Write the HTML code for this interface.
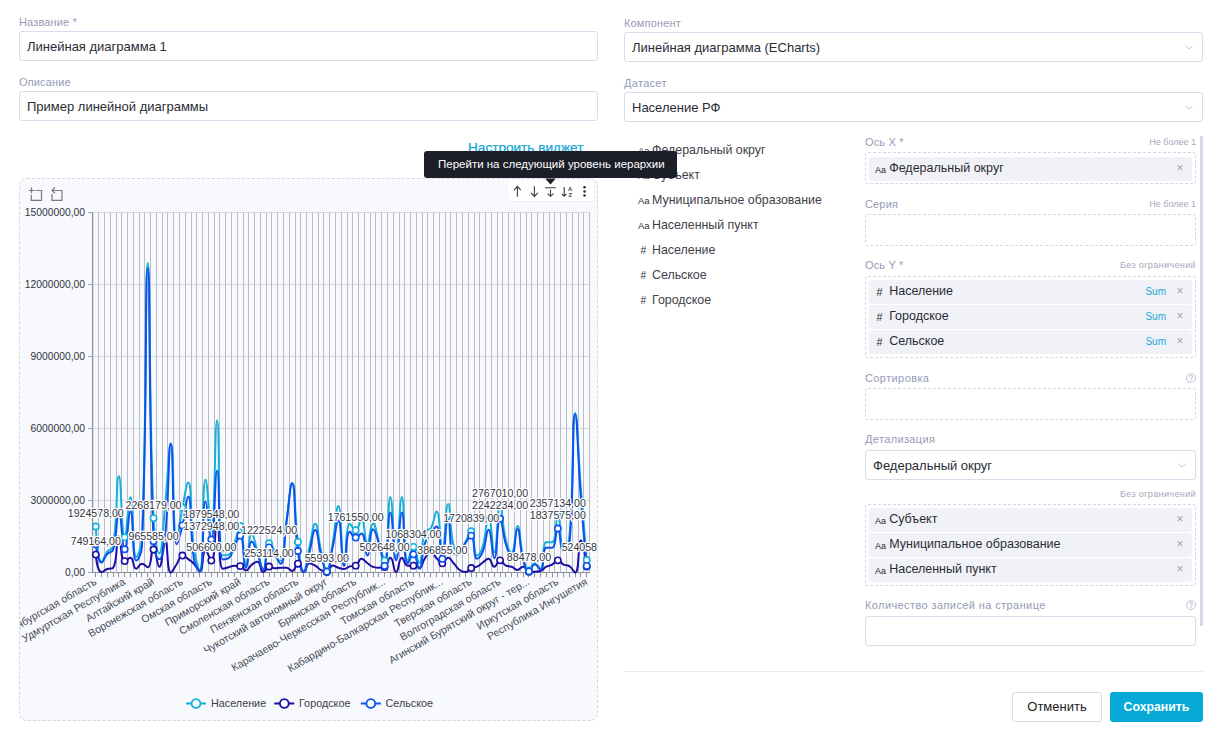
<!DOCTYPE html>
<html><head><meta charset="utf-8">
<style>
*{box-sizing:border-box;margin:0;padding:0}
html,body{width:1222px;height:746px;overflow:hidden;background:#fff;font-family:"Liberation Sans",sans-serif;color:#222}
.a{position:absolute;white-space:nowrap}
.lbl{position:absolute;font-size:11px;color:#959bb6;white-space:nowrap;line-height:13px;letter-spacing:0.15px}
.inp{position:absolute;border:1px solid #d9dcea;border-radius:3px;background:#fff}
.inp span{position:absolute;left:7px;top:7px;font-size:13px;line-height:15px;color:#2b2c33}
.chev{position:absolute;right:9.5px;top:11.5px;width:8px;height:5px}
.dash{position:absolute;border:1px dashed #d5d8e4;border-radius:3px}
.chip{position:absolute;left:3px;right:3px;height:24px;background:#f1f2f8;border-radius:3px}
.chip .ic{position:absolute;left:6px;top:7px;font-size:9px;line-height:12px;color:#2a2a2a}
.chip .tx{position:absolute;left:20.2px;top:4px;font-size:12.5px;line-height:15px;color:#2b2c33}
.chip .x{position:absolute;right:8.5px;top:4px;font-size:12px;line-height:14px;color:#9ea3b5}
.chip .sum{position:absolute;right:26px;top:6px;font-size:10px;line-height:12px;color:#1aaad8}
.small{position:absolute;font-size:9px;color:#a4a9bc;line-height:11px;white-space:nowrap}
.fl{position:absolute;left:638px;font-size:12.4px;line-height:17px;color:#3f414a;white-space:nowrap}
.fl i{font-style:normal;font-size:9.5px;display:inline-block;width:14px;color:#333}
.fl i.h{font-size:10.3px;padding-left:2.6px;color:#333}
.chip .ic.h{left:7.6px;top:5.5px;font-size:10.8px}
.q{position:absolute;width:10px;height:10px;border:1px solid #b8bccb;border-radius:50%;font-size:7px;line-height:8px;text-align:center;color:#b0b4c4}
</style></head><body>

<!-- left column -->
<div class="lbl" style="left:19px;top:16px">Название *</div>
<div class="inp" style="left:19px;top:31px;width:579px;height:30px"><span>Линейная диаграмма 1</span></div>
<div class="lbl" style="left:19px;top:76px">Описание</div>
<div class="inp" style="left:19px;top:91px;width:579px;height:30px"><span>Пример линейной диаграммы</span></div>

<div class="a" style="left:468px;top:140px;font-size:13.6px;line-height:15px;color:#17a8d6;-webkit-text-stroke:0.25px #17a8d6">Настроить виджет</div>

<!-- right column -->
<div class="lbl" style="left:624px;top:17px">Компонент</div>
<div class="inp" style="left:624px;top:32px;width:579px;height:30px"><span>Линейная диаграмма (ECharts)</span><svg class="chev" viewBox="0 0 8 5"><path d="M0.5 0.8L4 4L7.5 0.8" fill="none" stroke="#c3c6d6" stroke-width="1"/></svg></div>
<div class="lbl" style="left:624px;top:77px;letter-spacing:0.3px">Датасет</div>
<div class="inp" style="left:624px;top:92px;width:579px;height:30px"><span>Население РФ</span><svg class="chev" viewBox="0 0 8 5"><path d="M0.5 0.8L4 4L7.5 0.8" fill="none" stroke="#c3c6d6" stroke-width="1"/></svg></div>

<!-- field list -->
<div class="fl" style="top:142px"><i>Aa</i>Федеральный округ</div>
<div class="fl" style="top:167px"><i>Aa</i>Субъект</div>
<div class="fl" style="top:192px"><i>Aa</i>Муниципальное образование</div>
<div class="fl" style="top:217px"><i>Aa</i>Населенный пункт</div>
<div class="fl" style="top:242px"><i class="h">#</i>Население</div>
<div class="fl" style="top:267px"><i class="h">#</i>Сельское</div>
<div class="fl" style="top:292px"><i class="h">#</i>Городское</div>

<!-- config panel -->
<div class="lbl" style="left:865px;top:136px">Ось X *</div>
<div class="small" style="right:26px;top:137px">Не более 1</div>
<div class="dash" style="left:865px;top:152px;width:331px;height:32px">
  <div class="chip" style="top:4px"><span class="ic">Aa</span><span class="tx">Федеральный округ</span><span class="x">×</span></div>
</div>
<div class="lbl" style="left:865px;top:198px">Серия</div>
<div class="small" style="right:26px;top:199px">Не более 1</div>
<div class="dash" style="left:865px;top:214px;width:331px;height:32px"></div>

<div class="lbl" style="left:865px;top:259px">Ось Y *</div>
<div class="small" style="right:26px;top:260px;letter-spacing:0.38px">Без ограничений</div>
<div class="dash" style="left:865px;top:276px;width:331px;height:82px">
  <div class="chip" style="top:3px"><span class="ic h">#</span><span class="tx">Население</span><span class="sum">Sum</span><span class="x">×</span></div>
  <div class="chip" style="top:28px"><span class="ic h">#</span><span class="tx">Городское</span><span class="sum">Sum</span><span class="x">×</span></div>
  <div class="chip" style="top:53px"><span class="ic h">#</span><span class="tx">Сельское</span><span class="sum">Sum</span><span class="x">×</span></div>
</div>

<div class="lbl" style="left:865px;top:372px;letter-spacing:0.4px">Сортировка</div>
<svg class="a" style="left:1186px;top:373px" width="10" height="10" viewBox="0 0 10 10"><circle cx="5" cy="5" r="4.5" fill="none" stroke="#b9bdcf" stroke-width="0.9"/><path d="M3.5 3.9Q3.5 2.5 5 2.5Q6.5 2.5 6.5 3.8Q6.5 4.6 5.6 5Q5 5.3 5 6.1" fill="none" stroke="#aeb2c6" stroke-width="0.9"/><circle cx="5" cy="7.4" r="0.55" fill="#aeb2c6"/></svg>
<div class="dash" style="left:865px;top:388px;width:331px;height:32px"></div>

<div class="lbl" style="left:865px;top:433px;letter-spacing:0.35px">Детализация</div>
<div class="inp" style="left:865px;top:450px;width:331px;height:30px"><span>Федеральный округ</span><svg class="chev" viewBox="0 0 8 5"><path d="M0.5 0.8L4 4L7.5 0.8" fill="none" stroke="#c3c6d6" stroke-width="1"/></svg></div>
<div class="small" style="right:26px;top:489px;letter-spacing:0.38px">Без ограничений</div>
<div class="dash" style="left:865px;top:504px;width:331px;height:82px">
  <div class="chip" style="top:3px"><span class="ic">Aa</span><span class="tx">Субъект</span><span class="x">×</span></div>
  <div class="chip" style="top:28px"><span class="ic">Aa</span><span class="tx">Муниципальное образование</span><span class="x">×</span></div>
  <div class="chip" style="top:53px"><span class="ic">Aa</span><span class="tx">Населенный пункт</span><span class="x">×</span></div>
</div>

<div class="lbl" style="left:865px;top:599px;letter-spacing:0.4px">Количество записей на странице</div>
<svg class="a" style="left:1186px;top:600px" width="10" height="10" viewBox="0 0 10 10"><circle cx="5" cy="5" r="4.5" fill="none" stroke="#b9bdcf" stroke-width="0.9"/><path d="M3.5 3.9Q3.5 2.5 5 2.5Q6.5 2.5 6.5 3.8Q6.5 4.6 5.6 5Q5 5.3 5 6.1" fill="none" stroke="#aeb2c6" stroke-width="0.9"/><circle cx="5" cy="7.4" r="0.55" fill="#aeb2c6"/></svg>
<div class="inp" style="left:865px;top:616px;width:331px;height:30px"></div>

<div class="a" style="left:1200px;top:136px;width:3px;height:490px;background:#d6d9e6"></div>

<div class="a" style="left:624px;top:671px;width:579px;height:1px;background:#e9ebf2"></div>
<div class="a" style="left:1012px;top:692px;width:90px;height:30px;border:1px solid #d9dcea;border-radius:3px;font-size:13px;line-height:28px;text-align:center;color:#222">Отменить</div>
<div class="a" style="left:1110px;top:692px;width:93px;height:30px;background:#07aad6;border-radius:3px;font-size:12.3px;font-weight:bold;line-height:30px;text-align:center;color:#fff">Сохранить</div>

<!-- chart container -->
<div class="a" style="left:19px;top:178px;width:579px;height:543px;background:#f8f9fd;border:1px dashed #d8d9de;border-radius:8px"></div>

<svg class="a" style="left:0;top:0" width="610" height="730" viewBox="0 0 610 730">
<defs><clipPath id="cc"><rect x="20" y="179" width="577" height="541" rx="7"/></clipPath></defs>
<g clip-path="url(#cc)">
<line x1="93" y1="500.5" x2="589.6" y2="500.5" stroke="#d6d7de" stroke-width="1"/>
<line x1="93" y1="428.5" x2="589.6" y2="428.5" stroke="#d6d7de" stroke-width="1"/>
<line x1="93" y1="356.5" x2="589.6" y2="356.5" stroke="#d6d7de" stroke-width="1"/>
<line x1="93" y1="284.5" x2="589.6" y2="284.5" stroke="#d6d7de" stroke-width="1"/>
<line x1="93" y1="212.5" x2="589.6" y2="212.5" stroke="#d6d7de" stroke-width="1"/>
<path d="M98.5 212.5V572.5M104.5 212.5V572.5M110.5 212.5V572.5M116.5 212.5V572.5M121.5 212.5V572.5M127.5 212.5V572.5M133.5 212.5V572.5M139.5 212.5V572.5M144.5 212.5V572.5M150.5 212.5V572.5M156.5 212.5V572.5M162.5 212.5V572.5M167.5 212.5V572.5M173.5 212.5V572.5M179.5 212.5V572.5M185.5 212.5V572.5M191.5 212.5V572.5M196.5 212.5V572.5M202.5 212.5V572.5M208.5 212.5V572.5M214.5 212.5V572.5M219.5 212.5V572.5M225.5 212.5V572.5M231.5 212.5V572.5M237.5 212.5V572.5M243.5 212.5V572.5M248.5 212.5V572.5M254.5 212.5V572.5M260.5 212.5V572.5M266.5 212.5V572.5M271.5 212.5V572.5M277.5 212.5V572.5M283.5 212.5V572.5M289.5 212.5V572.5M295.5 212.5V572.5M300.5 212.5V572.5M306.5 212.5V572.5M312.5 212.5V572.5M318.5 212.5V572.5M323.5 212.5V572.5M329.5 212.5V572.5M335.5 212.5V572.5M341.5 212.5V572.5M347.5 212.5V572.5M352.5 212.5V572.5M358.5 212.5V572.5M364.5 212.5V572.5M370.5 212.5V572.5M375.5 212.5V572.5M381.5 212.5V572.5M387.5 212.5V572.5M393.5 212.5V572.5M399.5 212.5V572.5M404.5 212.5V572.5M410.5 212.5V572.5M416.5 212.5V572.5M422.5 212.5V572.5M427.5 212.5V572.5M433.5 212.5V572.5M439.5 212.5V572.5M445.5 212.5V572.5M450.5 212.5V572.5M456.5 212.5V572.5M462.5 212.5V572.5M468.5 212.5V572.5M474.5 212.5V572.5M479.5 212.5V572.5M485.5 212.5V572.5M491.5 212.5V572.5M497.5 212.5V572.5M502.5 212.5V572.5M508.5 212.5V572.5M514.5 212.5V572.5M520.5 212.5V572.5M526.5 212.5V572.5M531.5 212.5V572.5M537.5 212.5V572.5M543.5 212.5V572.5M549.5 212.5V572.5M554.5 212.5V572.5M560.5 212.5V572.5M566.5 212.5V572.5M572.5 212.5V572.5M578.5 212.5V572.5M583.5 212.5V572.5M589.5 212.5V572.5" stroke="#babbc4" stroke-width="1" fill="none"/>
<path d="M92.6 212.5V572.5" stroke="#8e909a" stroke-width="1.3"/>
<path d="M88 572.5H93M88 500.5H93M88 428.5H93M88 356.5H93M88 284.5H93M88 212.5H93" stroke="#a3a5ae" stroke-width="1"/>
<path d="M92 572.5H590" stroke="#8f919b" stroke-width="1"/>
<path d="M95.5 573V577.2M101.5 573V577.2M107.5 573V577.2M113.5 573V577.2M118.5 573V577.2M124.5 573V577.2M130.5 573V577.2M136.5 573V577.2M141.5 573V577.2M147.5 573V577.2M153.5 573V577.2M159.5 573V577.2M165.5 573V577.2M170.5 573V577.2M176.5 573V577.2M182.5 573V577.2M188.5 573V577.2M193.5 573V577.2M199.5 573V577.2M205.5 573V577.2M211.5 573V577.2M217.5 573V577.2M222.5 573V577.2M228.5 573V577.2M234.5 573V577.2M240.5 573V577.2M245.5 573V577.2M251.5 573V577.2M257.5 573V577.2M263.5 573V577.2M269.5 573V577.2M274.5 573V577.2M280.5 573V577.2M286.5 573V577.2M292.5 573V577.2M297.5 573V577.2M303.5 573V577.2M309.5 573V577.2M315.5 573V577.2M321.5 573V577.2M326.5 573V577.2M332.5 573V577.2M338.5 573V577.2M344.5 573V577.2M349.5 573V577.2M355.5 573V577.2M361.5 573V577.2M367.5 573V577.2M373.5 573V577.2M378.5 573V577.2M384.5 573V577.2M390.5 573V577.2M396.5 573V577.2M401.5 573V577.2M407.5 573V577.2M413.5 573V577.2M419.5 573V577.2M424.5 573V577.2M430.5 573V577.2M436.5 573V577.2M442.5 573V577.2M448.5 573V577.2M453.5 573V577.2M459.5 573V577.2M465.5 573V577.2M471.5 573V577.2M476.5 573V577.2M482.5 573V577.2M488.5 573V577.2M494.5 573V577.2M500.5 573V577.2M505.5 573V577.2M511.5 573V577.2M517.5 573V577.2M523.5 573V577.2M528.5 573V577.2M534.5 573V577.2M540.5 573V577.2M546.5 573V577.2M552.5 573V577.2M557.5 573V577.2M563.5 573V577.2M569.5 573V577.2M575.5 573V577.2M580.5 573V577.2M586.5 573V577.2" stroke="#8f919b" stroke-width="1"/>
<text x="85" y="575.8" text-anchor="end" font-size="10.3" fill="#30333d">0,00</text>
<text x="85" y="503.8" text-anchor="end" font-size="10.3" fill="#30333d">3000000,00</text>
<text x="85" y="431.8" text-anchor="end" font-size="10.3" fill="#30333d">6000000,00</text>
<text x="85" y="359.8" text-anchor="end" font-size="10.3" fill="#30333d">9000000,00</text>
<text x="85" y="287.8" text-anchor="end" font-size="10.3" fill="#30333d">12000000,00</text>
<text x="85" y="215.8" text-anchor="end" font-size="10.3" fill="#30333d">15000000,00</text>
<text transform="translate(95.3 580.5) rotate(-30)" y="3.8" text-anchor="end" font-size="10.6" fill="#474a56">Оренбургская область</text>
<text transform="translate(124.2 580.5) rotate(-30)" y="3.8" text-anchor="end" font-size="10.6" fill="#474a56">Удмуртская Республика</text>
<text transform="translate(153.0 580.5) rotate(-30)" y="3.8" text-anchor="end" font-size="10.6" fill="#474a56">Алтайский край</text>
<text transform="translate(181.9 580.5) rotate(-30)" y="3.8" text-anchor="end" font-size="10.6" fill="#474a56">Воронежская область</text>
<text transform="translate(210.8 580.5) rotate(-30)" y="3.8" text-anchor="end" font-size="10.6" fill="#474a56">Омская область</text>
<text transform="translate(239.7 580.5) rotate(-30)" y="3.8" text-anchor="end" font-size="10.6" fill="#474a56">Приморский край</text>
<text transform="translate(268.6 580.5) rotate(-30)" y="3.8" text-anchor="end" font-size="10.6" fill="#474a56">Смоленская область</text>
<text transform="translate(297.4 580.5) rotate(-30)" y="3.8" text-anchor="end" font-size="10.6" fill="#474a56">Пензенская область</text>
<text transform="translate(326.3 580.5) rotate(-30)" y="3.8" text-anchor="end" font-size="10.6" fill="#474a56">Чукотский автономный округ</text>
<text transform="translate(355.2 580.5) rotate(-30)" y="3.8" text-anchor="end" font-size="10.6" fill="#474a56">Брянская область</text>
<text transform="translate(384.1 580.5) rotate(-30)" y="3.8" text-anchor="end" font-size="10.6" fill="#474a56">Карачаево-Черкесская Республик...</text>
<text transform="translate(412.9 580.5) rotate(-30)" y="3.8" text-anchor="end" font-size="10.6" fill="#474a56">Томская область</text>
<text transform="translate(441.8 580.5) rotate(-30)" y="3.8" text-anchor="end" font-size="10.6" fill="#474a56">Кабардино-Балкарская Республик...</text>
<text transform="translate(470.7 580.5) rotate(-30)" y="3.8" text-anchor="end" font-size="10.6" fill="#474a56">Тверская область</text>
<text transform="translate(499.6 580.5) rotate(-30)" y="3.8" text-anchor="end" font-size="10.6" fill="#474a56">Волгоградская область</text>
<text transform="translate(528.5 580.5) rotate(-30)" y="3.8" text-anchor="end" font-size="10.6" fill="#474a56">Агинский Бурятский округ - тер...</text>
<text transform="translate(557.3 580.5) rotate(-30)" y="3.8" text-anchor="end" font-size="10.6" fill="#474a56">Иркутская область</text>
<text transform="translate(586.2 580.5) rotate(-30)" y="3.8" text-anchor="end" font-size="10.6" fill="#474a56">Республика Ингушетия</text>
<path d="M95.79 526.52C95.79 526.52 97.20 561.80 101.56 561.80C102.98 561.80 103.89 556.31 107.34 551.72C109.66 548.63 112.54 550.21 113.11 546.44C118.31 512.53 115.80 476.36 118.89 476.36C121.58 476.36 121.19 537.32 124.67 537.32C126.96 537.32 128.11 497.24 130.44 497.24C133.89 497.24 131.95 557.00 136.22 557.00C137.72 557.00 141.58 547.17 141.99 536.60C147.35 400.17 144.78 263.00 147.77 263.00C150.55 263.00 148.48 390.76 153.54 518.12C154.25 535.96 156.86 553.40 159.32 553.40C162.64 553.40 162.57 529.44 165.09 505.40C168.34 474.48 168.61 443.48 170.87 443.48C174.38 443.48 172.33 539.96 176.65 539.96C178.11 539.96 179.20 523.81 182.42 507.80C184.97 495.13 186.58 482.60 188.20 482.60C192.35 482.60 189.65 515.85 193.97 548.60C195.43 559.65 198.61 570.20 199.75 570.20C204.38 570.20 201.75 479.72 205.52 479.72C207.53 479.72 209.51 527.48 211.30 527.48C215.29 527.48 214.52 420.20 217.07 420.20C220.29 420.20 217.31 555.32 222.85 555.32C223.09 555.32 226.83 555.32 228.63 554.60C232.60 553.01 231.99 549.04 234.40 543.08C237.77 534.76 238.38 526.04 240.18 526.04C244.15 526.04 242.74 565.40 245.95 565.40C248.52 565.40 248.03 534.20 251.73 534.20C253.80 534.20 254.72 542.56 257.50 551.00C260.50 560.08 260.86 569.24 263.28 569.24C266.64 569.24 264.79 543.26 269.06 543.26C270.57 543.26 272.21 546.83 274.83 550.76C277.99 555.50 279.29 560.60 280.61 560.60C285.07 560.60 283.52 541.40 286.38 522.20C289.30 502.64 289.84 483.08 292.16 483.08C295.62 483.08 294.11 512.62 297.93 541.88C299.88 556.78 300.56 571.40 303.71 571.40C306.34 571.40 306.53 559.14 309.48 546.92C312.30 535.26 312.59 523.64 315.26 523.64C318.37 523.64 317.74 537.42 321.04 551.00C323.52 561.23 324.33 571.26 326.81 571.26C330.11 571.26 330.14 557.61 332.59 543.80C335.91 525.04 336.07 506.12 338.36 506.12C341.85 506.12 340.74 563.96 344.14 563.96C346.52 563.96 345.17 523.64 349.91 523.64C350.94 523.64 353.24 530.32 355.69 530.32C359.02 530.32 359.54 519.80 361.46 519.80C365.31 519.80 364.13 543.08 367.24 543.08C369.90 543.08 370.01 523.40 373.02 523.40C375.79 523.40 375.98 532.37 378.79 541.40C381.76 550.94 383.19 560.54 384.57 560.54C388.96 560.54 387.43 497.00 390.34 497.00C393.20 497.00 393.23 559.40 396.12 559.40C399.01 559.40 399.05 497.00 401.89 497.00C404.82 497.00 403.01 561.32 407.67 561.32C408.79 561.32 410.70 546.96 413.44 546.96C416.47 546.96 417.22 563.00 419.22 563.00C423.00 563.00 420.20 545.77 425.00 531.32C425.97 528.37 429.21 530.89 430.77 528.20C434.99 520.93 434.73 511.40 436.55 511.40C440.50 511.40 439.69 549.56 442.32 549.56C445.46 549.56 445.14 503.96 448.10 503.96C450.92 503.96 448.89 526.99 453.87 547.40C454.66 550.63 457.39 551.24 459.65 551.24C463.17 551.24 462.72 546.79 465.42 542.12C468.50 536.82 469.30 531.30 471.20 531.30C475.07 531.30 472.95 555.56 476.98 555.56C478.72 555.56 481.27 551.55 482.75 546.44C487.04 531.63 485.88 515.72 488.53 515.72C491.66 515.72 491.74 552.20 494.30 552.20C497.52 552.20 496.76 506.19 500.08 506.19C502.53 506.19 501.75 523.45 505.85 539.96C507.53 546.69 509.67 552.68 511.63 552.68C515.45 552.68 514.73 526.04 517.41 526.04C520.50 526.04 519.24 541.84 523.18 557.00C525.02 564.06 525.42 570.48 528.96 570.48C531.19 570.48 531.66 563.24 534.73 563.24C537.44 563.24 539.18 569.00 540.51 569.00C544.95 569.00 541.52 542.36 546.28 542.36C547.29 542.36 551.04 542.36 552.06 542.36C556.82 542.36 555.31 516.03 557.83 516.03C561.09 516.03 559.56 550.28 563.61 550.28C565.34 550.28 568.77 543.95 569.39 536.60C574.54 475.31 571.60 413.00 575.16 413.00C577.38 413.00 577.92 451.41 580.94 489.80C583.70 524.92 586.71 560.02 586.71 560.02" stroke="#14b1d9" stroke-width="2" fill="none" stroke-linejoin="round"/>
<path d="M95.79 554.60C95.79 554.60 97.30 572.12 101.56 572.12C103.08 572.12 104.30 570.14 107.34 569.00C110.07 567.98 112.21 569.00 113.11 567.80C117.98 561.35 115.67 536.60 118.89 536.60C121.44 536.60 120.10 561.08 124.67 561.08C125.88 561.08 128.43 557.72 130.44 557.72C134.20 557.72 132.64 568.76 136.22 568.76C138.42 568.76 138.93 563.72 141.99 563.72C144.71 563.72 146.23 567.32 147.77 567.32C152.00 567.32 150.62 549.56 153.54 549.56C156.40 549.56 157.01 566.84 159.32 566.84C162.78 566.84 162.48 540.20 165.09 540.20C168.25 540.20 166.46 572.60 170.87 572.60C172.24 572.60 173.79 568.42 176.65 564.20C179.56 559.90 178.93 555.56 182.42 555.56C184.71 555.56 185.42 557.20 188.20 559.16C191.20 561.28 191.47 561.07 193.97 563.72C197.24 567.19 197.96 571.40 199.75 571.40C203.74 571.40 201.75 550.76 205.52 550.76C207.53 550.76 209.99 560.60 211.30 560.60C215.76 560.60 214.46 522.20 217.07 522.20C220.24 522.20 217.73 568.76 222.85 568.76C223.50 568.76 225.75 568.10 228.63 567.32C231.53 566.54 231.46 565.64 234.40 565.64C237.24 565.64 237.60 565.64 240.18 566.12C243.38 566.72 243.24 570.44 245.95 570.44C249.02 570.44 248.50 567.09 251.73 564.68C254.28 562.77 255.46 561.80 257.50 561.80C261.24 561.80 259.84 572.12 263.28 572.12C265.62 572.12 265.76 566.53 269.06 566.53C271.53 566.53 271.88 568.28 274.83 568.28C277.66 568.28 277.71 567.80 280.61 567.80C283.49 567.80 283.68 567.80 286.38 567.80C289.45 567.80 289.76 570.92 292.16 570.92C295.53 570.92 295.19 563.72 297.93 563.72C300.96 563.72 300.88 572.12 303.71 572.12C306.65 572.12 305.85 563.24 309.48 563.24C311.63 563.24 312.61 564.04 315.26 565.64C318.38 567.52 317.87 568.43 321.04 570.20C323.65 571.67 324.46 572.12 326.81 572.12C330.23 572.12 329.20 565.40 332.59 565.40C334.98 565.40 335.39 566.87 338.36 567.80C341.17 568.67 341.36 569.00 344.14 569.00C347.13 569.00 346.90 567.15 349.91 566.36C352.68 565.64 353.43 566.36 355.69 565.64C359.20 564.52 358.25 558.68 361.46 558.68C364.03 558.68 364.30 560.92 367.24 563.00C370.07 565.00 369.88 565.70 373.02 566.84C375.66 567.80 375.89 567.80 378.79 567.80C381.67 567.80 382.57 567.80 384.57 567.08C388.34 565.72 387.95 557.72 390.34 557.72C393.72 557.72 393.23 572.12 396.12 572.12C399.01 572.12 398.35 557.72 401.89 557.72C404.13 557.72 404.03 565.64 407.67 565.64C409.81 565.64 410.65 565.64 413.44 565.64C416.43 565.64 417.17 567.80 419.22 567.80C422.95 567.80 421.68 562.67 425.00 558.20C427.46 554.87 427.88 552.20 430.77 552.20C433.66 552.20 433.55 555.32 436.55 558.20C439.32 560.87 439.49 563.31 442.32 563.31C445.27 563.31 445.23 557.72 448.10 557.72C451.01 557.72 451.08 560.52 453.87 563.48C456.85 566.64 456.27 567.43 459.65 569.96C462.05 571.75 462.73 572.12 465.42 572.12C468.51 572.12 468.06 569.51 471.20 568.04C473.83 566.81 474.36 567.97 476.98 566.72C480.13 565.21 479.82 564.56 482.75 562.52C485.60 560.54 486.15 558.68 488.53 558.68C491.92 558.68 491.21 566.72 494.30 566.72C496.99 566.72 497.06 560.36 500.08 560.36C502.83 560.36 502.56 564.20 505.85 565.64C508.33 566.72 508.91 565.70 511.63 566.72C514.69 567.86 514.52 569.96 517.41 569.96C520.29 569.96 520.49 566.72 523.18 566.72C526.26 566.72 525.68 571.64 528.96 571.64C531.45 571.64 531.86 571.64 534.73 571.64C537.63 571.64 537.93 571.64 540.51 570.92C543.70 570.03 543.15 568.29 546.28 566.60C548.93 565.17 549.42 566.11 552.06 564.68C555.19 562.99 554.95 560.36 557.83 560.36C560.72 560.36 560.45 563.10 563.61 564.68C566.22 565.98 567.04 564.68 569.39 566.12C572.81 568.22 573.95 572.60 575.16 572.60C579.72 572.60 577.76 540.44 580.94 540.44C583.54 540.44 586.71 566.60 586.71 566.60" stroke="#1d0ca3" stroke-width="2" fill="none" stroke-linejoin="round"/>
<path d="M95.79 544.28C95.79 544.28 97.82 562.52 101.56 562.52C103.60 562.52 103.90 557.66 107.34 553.88C109.68 551.30 112.20 553.06 113.11 549.80C117.98 532.42 115.98 512.60 118.89 512.60C121.76 512.60 121.82 549.32 124.67 549.32C127.60 549.32 127.92 511.40 130.44 511.40C133.70 511.40 131.82 560.60 136.22 560.60C137.59 560.60 141.69 553.93 141.99 546.20C147.46 407.65 144.85 268.04 147.77 268.04C150.63 268.04 148.14 405.02 153.54 541.16C153.92 550.58 156.73 559.16 159.32 559.16C162.51 559.16 163.94 548.15 165.09 536.60C169.72 490.31 168.10 443.48 170.87 443.48C173.87 443.48 171.81 544.28 176.65 544.28C177.59 544.28 180.11 535.01 182.42 525.44C185.88 511.13 186.36 496.52 188.20 496.52C192.13 496.52 189.20 528.48 193.97 559.40C194.98 565.92 198.83 571.40 199.75 571.40C204.60 571.40 201.79 501.56 205.52 501.56C207.57 501.56 209.23 539.48 211.30 539.48C215.01 539.48 214.55 470.84 217.07 470.84C220.33 470.84 217.43 559.40 222.85 559.40C223.21 559.40 226.83 559.40 228.63 558.20C232.61 555.53 231.42 552.27 234.40 546.44C237.19 540.99 238.60 535.64 240.18 535.64C244.38 535.64 242.79 567.80 245.95 567.80C248.57 567.80 247.90 541.40 251.73 541.40C253.68 541.40 254.93 547.51 257.50 553.88C260.70 561.79 260.84 569.96 263.28 569.96C266.61 569.96 264.97 547.40 269.06 547.40C270.74 547.40 272.06 551.16 274.83 555.08C277.83 559.32 279.44 563.72 280.61 563.72C285.22 563.72 283.44 543.31 286.38 522.92C289.22 503.23 290.02 483.56 292.16 483.56C295.80 483.56 293.57 517.54 297.93 551.00C299.34 561.82 300.74 572.12 303.71 572.12C306.52 572.12 306.73 562.20 309.48 552.20C312.51 541.20 312.51 530.12 315.26 530.12C318.29 530.12 317.67 542.50 321.04 554.60C323.44 563.26 324.38 571.64 326.81 571.64C330.15 571.64 329.87 559.68 332.59 547.64C335.64 534.12 336.18 520.52 338.36 520.52C341.96 520.52 340.85 565.88 344.14 565.88C346.62 565.88 345.24 531.80 349.91 531.80C351.02 531.80 352.60 537.56 355.69 537.56C358.37 537.56 360.10 533.48 361.46 533.48C365.87 533.48 364.60 555.56 367.24 555.56C370.37 555.56 369.31 529.16 373.02 529.16C375.08 529.16 376.54 535.91 378.79 543.08C382.31 554.27 382.81 565.88 384.57 565.88C388.58 565.88 387.30 512.60 390.34 512.60C393.07 512.60 393.23 560.36 396.12 560.36C399.01 560.36 399.10 512.60 401.89 512.60C404.87 512.60 402.90 563.48 407.67 563.48C408.67 563.48 411.08 554.36 413.44 554.36C416.85 554.36 417.08 568.76 419.22 568.76C422.85 568.76 420.94 555.45 425.00 543.08C426.72 537.81 427.58 538.06 430.77 533.48C433.35 529.78 435.30 526.52 436.55 526.52C441.08 526.52 439.73 558.92 442.32 558.92C445.51 558.92 445.06 518.84 448.10 518.84C450.83 518.84 448.90 554.84 453.87 554.84C454.67 554.84 457.78 554.84 459.65 553.88C463.56 551.87 462.16 548.24 465.42 543.08C467.94 539.12 469.56 535.64 471.20 535.64C475.34 535.64 472.79 558.68 476.98 558.68C478.57 558.68 481.11 555.84 482.75 551.72C486.89 541.32 485.99 529.64 488.53 529.64C491.77 529.64 491.86 558.20 494.30 558.20C497.64 558.20 496.59 518.79 500.08 518.79C502.37 518.79 502.09 531.83 505.85 544.28C507.87 550.93 509.73 557.00 511.63 557.00C515.50 557.00 514.68 529.16 517.41 529.16C520.45 529.16 519.03 545.19 523.18 560.36C524.81 566.31 525.64 571.40 528.96 571.40C531.41 571.40 531.64 564.20 534.73 564.20C537.41 564.20 539.01 569.72 540.51 569.72C544.79 569.72 541.67 547.64 546.28 547.64C547.45 547.64 550.76 547.64 552.06 547.64C556.54 547.64 555.16 528.50 557.83 528.50C560.94 528.50 559.36 551.00 563.61 551.00C565.13 551.00 569.04 549.09 569.39 545.00C574.82 480.69 571.67 414.20 575.16 414.20C577.44 414.20 577.69 456.83 580.94 499.40C583.47 532.67 586.71 565.88 586.71 565.88" stroke="#0d52ee" stroke-width="2" fill="none" stroke-linejoin="round"/>
<circle cx="95.79" cy="526.52" r="3.15" fill="#fff" stroke="#14b1d9" stroke-width="1.6"/>
<circle cx="124.67" cy="537.32" r="3.15" fill="#fff" stroke="#14b1d9" stroke-width="1.6"/>
<circle cx="153.54" cy="518.12" r="3.15" fill="#fff" stroke="#14b1d9" stroke-width="1.6"/>
<circle cx="182.42" cy="507.80" r="3.15" fill="#fff" stroke="#14b1d9" stroke-width="1.6"/>
<circle cx="211.30" cy="527.48" r="3.15" fill="#fff" stroke="#14b1d9" stroke-width="1.6"/>
<circle cx="240.18" cy="526.04" r="3.15" fill="#fff" stroke="#14b1d9" stroke-width="1.6"/>
<circle cx="269.06" cy="543.26" r="3.15" fill="#fff" stroke="#14b1d9" stroke-width="1.6"/>
<circle cx="297.93" cy="541.88" r="3.15" fill="#fff" stroke="#14b1d9" stroke-width="1.6"/>
<circle cx="326.81" cy="571.26" r="3.15" fill="#fff" stroke="#14b1d9" stroke-width="1.6"/>
<circle cx="355.69" cy="530.32" r="3.15" fill="#fff" stroke="#14b1d9" stroke-width="1.6"/>
<circle cx="384.57" cy="560.54" r="3.15" fill="#fff" stroke="#14b1d9" stroke-width="1.6"/>
<circle cx="413.44" cy="546.96" r="3.15" fill="#fff" stroke="#14b1d9" stroke-width="1.6"/>
<circle cx="442.32" cy="549.56" r="3.15" fill="#fff" stroke="#14b1d9" stroke-width="1.6"/>
<circle cx="471.20" cy="531.30" r="3.15" fill="#fff" stroke="#14b1d9" stroke-width="1.6"/>
<circle cx="500.08" cy="506.19" r="3.15" fill="#fff" stroke="#14b1d9" stroke-width="1.6"/>
<circle cx="528.96" cy="570.48" r="3.15" fill="#fff" stroke="#14b1d9" stroke-width="1.6"/>
<circle cx="557.83" cy="516.03" r="3.15" fill="#fff" stroke="#14b1d9" stroke-width="1.6"/>
<circle cx="586.71" cy="560.02" r="3.15" fill="#fff" stroke="#14b1d9" stroke-width="1.6"/>
<circle cx="95.79" cy="554.60" r="3.15" fill="#fff" stroke="#1d0ca3" stroke-width="1.6"/>
<circle cx="124.67" cy="561.08" r="3.15" fill="#fff" stroke="#1d0ca3" stroke-width="1.6"/>
<circle cx="153.54" cy="549.56" r="3.15" fill="#fff" stroke="#1d0ca3" stroke-width="1.6"/>
<circle cx="182.42" cy="555.56" r="3.15" fill="#fff" stroke="#1d0ca3" stroke-width="1.6"/>
<circle cx="211.30" cy="560.60" r="3.15" fill="#fff" stroke="#1d0ca3" stroke-width="1.6"/>
<circle cx="240.18" cy="566.12" r="3.15" fill="#fff" stroke="#1d0ca3" stroke-width="1.6"/>
<circle cx="269.06" cy="566.53" r="3.15" fill="#fff" stroke="#1d0ca3" stroke-width="1.6"/>
<circle cx="297.93" cy="563.72" r="3.15" fill="#fff" stroke="#1d0ca3" stroke-width="1.6"/>
<circle cx="326.81" cy="572.12" r="3.15" fill="#fff" stroke="#1d0ca3" stroke-width="1.6"/>
<circle cx="355.69" cy="565.64" r="3.15" fill="#fff" stroke="#1d0ca3" stroke-width="1.6"/>
<circle cx="384.57" cy="567.08" r="3.15" fill="#fff" stroke="#1d0ca3" stroke-width="1.6"/>
<circle cx="413.44" cy="565.64" r="3.15" fill="#fff" stroke="#1d0ca3" stroke-width="1.6"/>
<circle cx="442.32" cy="563.31" r="3.15" fill="#fff" stroke="#1d0ca3" stroke-width="1.6"/>
<circle cx="471.20" cy="568.04" r="3.15" fill="#fff" stroke="#1d0ca3" stroke-width="1.6"/>
<circle cx="500.08" cy="560.36" r="3.15" fill="#fff" stroke="#1d0ca3" stroke-width="1.6"/>
<circle cx="528.96" cy="571.64" r="3.15" fill="#fff" stroke="#1d0ca3" stroke-width="1.6"/>
<circle cx="557.83" cy="560.36" r="3.15" fill="#fff" stroke="#1d0ca3" stroke-width="1.6"/>
<circle cx="586.71" cy="566.60" r="3.15" fill="#fff" stroke="#1d0ca3" stroke-width="1.6"/>
<circle cx="95.79" cy="544.28" r="3.15" fill="#fff" stroke="#0d52ee" stroke-width="1.6"/>
<circle cx="124.67" cy="549.32" r="3.15" fill="#fff" stroke="#0d52ee" stroke-width="1.6"/>
<circle cx="153.54" cy="541.16" r="3.15" fill="#fff" stroke="#0d52ee" stroke-width="1.6"/>
<circle cx="182.42" cy="525.44" r="3.15" fill="#fff" stroke="#0d52ee" stroke-width="1.6"/>
<circle cx="211.30" cy="539.48" r="3.15" fill="#fff" stroke="#0d52ee" stroke-width="1.6"/>
<circle cx="240.18" cy="535.64" r="3.15" fill="#fff" stroke="#0d52ee" stroke-width="1.6"/>
<circle cx="269.06" cy="547.40" r="3.15" fill="#fff" stroke="#0d52ee" stroke-width="1.6"/>
<circle cx="297.93" cy="551.00" r="3.15" fill="#fff" stroke="#0d52ee" stroke-width="1.6"/>
<circle cx="326.81" cy="571.64" r="3.15" fill="#fff" stroke="#0d52ee" stroke-width="1.6"/>
<circle cx="355.69" cy="537.56" r="3.15" fill="#fff" stroke="#0d52ee" stroke-width="1.6"/>
<circle cx="384.57" cy="565.88" r="3.15" fill="#fff" stroke="#0d52ee" stroke-width="1.6"/>
<circle cx="413.44" cy="554.36" r="3.15" fill="#fff" stroke="#0d52ee" stroke-width="1.6"/>
<circle cx="442.32" cy="558.92" r="3.15" fill="#fff" stroke="#0d52ee" stroke-width="1.6"/>
<circle cx="471.20" cy="535.64" r="3.15" fill="#fff" stroke="#0d52ee" stroke-width="1.6"/>
<circle cx="500.08" cy="518.79" r="3.15" fill="#fff" stroke="#0d52ee" stroke-width="1.6"/>
<circle cx="528.96" cy="571.40" r="3.15" fill="#fff" stroke="#0d52ee" stroke-width="1.6"/>
<circle cx="557.83" cy="528.50" r="3.15" fill="#fff" stroke="#0d52ee" stroke-width="1.6"/>
<circle cx="586.71" cy="565.88" r="3.15" fill="#fff" stroke="#0d52ee" stroke-width="1.6"/>
<text x="95.79" y="517.12" text-anchor="middle" font-size="10.6" fill="#33353f" stroke="#fff" stroke-width="2.5" paint-order="stroke" stroke-linejoin="round">1924578,00</text>
<text x="95.79" y="545.20" text-anchor="middle" font-size="10.6" fill="#33353f" stroke="#fff" stroke-width="2.5" paint-order="stroke" stroke-linejoin="round">749164,00</text>
<text x="153.54" y="540.16" text-anchor="middle" font-size="10.6" fill="#33353f" stroke="#fff" stroke-width="2.5" paint-order="stroke" stroke-linejoin="round">965585,00</text>
<text x="153.54" y="508.72" text-anchor="middle" font-size="10.6" fill="#33353f" stroke="#fff" stroke-width="2.5" paint-order="stroke" stroke-linejoin="round">2268179,00</text>
<text x="211.30" y="518.08" text-anchor="middle" font-size="10.6" fill="#33353f" stroke="#fff" stroke-width="2.5" paint-order="stroke" stroke-linejoin="round">1879548,00</text>
<text x="211.30" y="530.08" text-anchor="middle" font-size="10.6" fill="#33353f" stroke="#fff" stroke-width="2.5" paint-order="stroke" stroke-linejoin="round">1372948,00</text>
<text x="211.30" y="551.20" text-anchor="middle" font-size="10.6" fill="#33353f" stroke="#fff" stroke-width="2.5" paint-order="stroke" stroke-linejoin="round">506600,00</text>
<text x="269.06" y="533.86" text-anchor="middle" font-size="10.6" fill="#33353f" stroke="#fff" stroke-width="2.5" paint-order="stroke" stroke-linejoin="round">1222524,00</text>
<text x="269.06" y="557.13" text-anchor="middle" font-size="10.6" fill="#33353f" stroke="#fff" stroke-width="2.5" paint-order="stroke" stroke-linejoin="round">253114,00</text>
<text x="326.81" y="561.86" text-anchor="middle" font-size="10.6" fill="#33353f" stroke="#fff" stroke-width="2.5" paint-order="stroke" stroke-linejoin="round">55993,00</text>
<text x="355.69" y="520.92" text-anchor="middle" font-size="10.6" fill="#33353f" stroke="#fff" stroke-width="2.5" paint-order="stroke" stroke-linejoin="round">1761550,00</text>
<text x="384.57" y="551.14" text-anchor="middle" font-size="10.6" fill="#33353f" stroke="#fff" stroke-width="2.5" paint-order="stroke" stroke-linejoin="round">502648,00</text>
<text x="413.44" y="537.56" text-anchor="middle" font-size="10.6" fill="#33353f" stroke="#fff" stroke-width="2.5" paint-order="stroke" stroke-linejoin="round">1068304,00</text>
<text x="442.32" y="553.91" text-anchor="middle" font-size="10.6" fill="#33353f" stroke="#fff" stroke-width="2.5" paint-order="stroke" stroke-linejoin="round">386855,00</text>
<text x="471.20" y="521.90" text-anchor="middle" font-size="10.6" fill="#33353f" stroke="#fff" stroke-width="2.5" paint-order="stroke" stroke-linejoin="round">1720839,00</text>
<text x="500.08" y="496.79" text-anchor="middle" font-size="10.6" fill="#33353f" stroke="#fff" stroke-width="2.5" paint-order="stroke" stroke-linejoin="round">2767010,00</text>
<text x="500.08" y="509.39" text-anchor="middle" font-size="10.6" fill="#33353f" stroke="#fff" stroke-width="2.5" paint-order="stroke" stroke-linejoin="round">2242234,00</text>
<text x="528.96" y="561.08" text-anchor="middle" font-size="10.6" fill="#33353f" stroke="#fff" stroke-width="2.5" paint-order="stroke" stroke-linejoin="round">88478,00</text>
<text x="557.83" y="506.63" text-anchor="middle" font-size="10.6" fill="#33353f" stroke="#fff" stroke-width="2.5" paint-order="stroke" stroke-linejoin="round">2357134,00</text>
<text x="557.83" y="519.10" text-anchor="middle" font-size="10.6" fill="#33353f" stroke="#fff" stroke-width="2.5" paint-order="stroke" stroke-linejoin="round">1837575,00</text>
<text x="586.71" y="550.62" text-anchor="middle" font-size="10.6" fill="#33353f" stroke="#fff" stroke-width="2.5" paint-order="stroke" stroke-linejoin="round">524058,00</text>
</g>
<path d="M186.0 703.5H206.0" stroke="#14b1d9" stroke-width="2"/>
<circle cx="196.0" cy="703.5" r="4.4" fill="#fff" stroke="#14b1d9" stroke-width="1.8"/>
<text x="211.0" y="707.3" font-size="10.8" fill="#3a3d48">Население</text>
<path d="M274.3 703.5H294.3" stroke="#1d0ca3" stroke-width="2"/>
<circle cx="284.3" cy="703.5" r="4.4" fill="#fff" stroke="#1d0ca3" stroke-width="1.8"/>
<text x="299.0" y="707.3" font-size="10.8" fill="#3a3d48">Городское</text>
<path d="M360.8 703.5H380.8" stroke="#0d52ee" stroke-width="2"/>
<circle cx="370.8" cy="703.5" r="4.4" fill="#fff" stroke="#0d52ee" stroke-width="1.8"/>
<text x="385.5" y="707.3" font-size="10.8" fill="#3a3d48">Сельское</text>
</svg>

<!-- toolbar -->
<div class="a" style="left:508px;top:181px;width:86px;height:20px;background:#fff;border-radius:4px;box-shadow:0 1px 2px rgba(30,40,80,0.06)"></div>
<svg class="a" style="left:0;top:0" width="610" height="210" viewBox="0 0 610 210">
<g fill="none" stroke="#7a7b80" stroke-width="1.2" stroke-linecap="butt">
<path d="M31.5 187.6V193.3M28.9 190.5H34.9M36 190.5H41.5V200.4H31.3V194.8"/>
<path d="M54.9 187.3L52 190.5L54.9 193.3M52 190.5H62V200.4H52V194"/>
</g>
<g fill="none" stroke="#3a3b42" stroke-width="1.1">
<path d="M517.4 186.4V196.7M514 190.2L517.4 186.4L520.8 190.2"/>
<path d="M534.4 186.2V196.5M531 192.9L534.4 196.5L537.8 192.9"/>
<path d="M545 187.7H555.9M550.5 189.7V196.3M547.6 193.6L550.5 196.3L553.4 193.6"/>
<path d="M564.2 186.9V196.3M562 194L564.2 196.3L566.4 194"/>
</g>
<text x="570.2" y="190.7" font-size="5.8" font-weight="bold" text-anchor="middle" fill="#3a3b42">A</text>
<text x="570.2" y="197" font-size="5.8" font-weight="bold" text-anchor="middle" fill="#3a3b42">Z</text>
<g fill="#2a2b30"><circle cx="584.5" cy="187.3" r="1.25"/><circle cx="584.5" cy="191.4" r="1.25"/><circle cx="584.5" cy="195.5" r="1.25"/></g>
</svg>

<!-- tooltip -->
<div class="a" style="left:424px;top:151px;width:253px;height:27px;background:#1c1e29;border-radius:3px;color:#fff;font-size:11.5px;line-height:26px;padding-left:14px">Перейти на следующий уровень иерархии</div>
<svg class="a" style="left:540px;top:176.5px" width="20" height="10"><path d="M5.2 1.5L10.5 7.5L15.8 1.5Z" fill="#1c1e29"/></svg>

</body></html>
